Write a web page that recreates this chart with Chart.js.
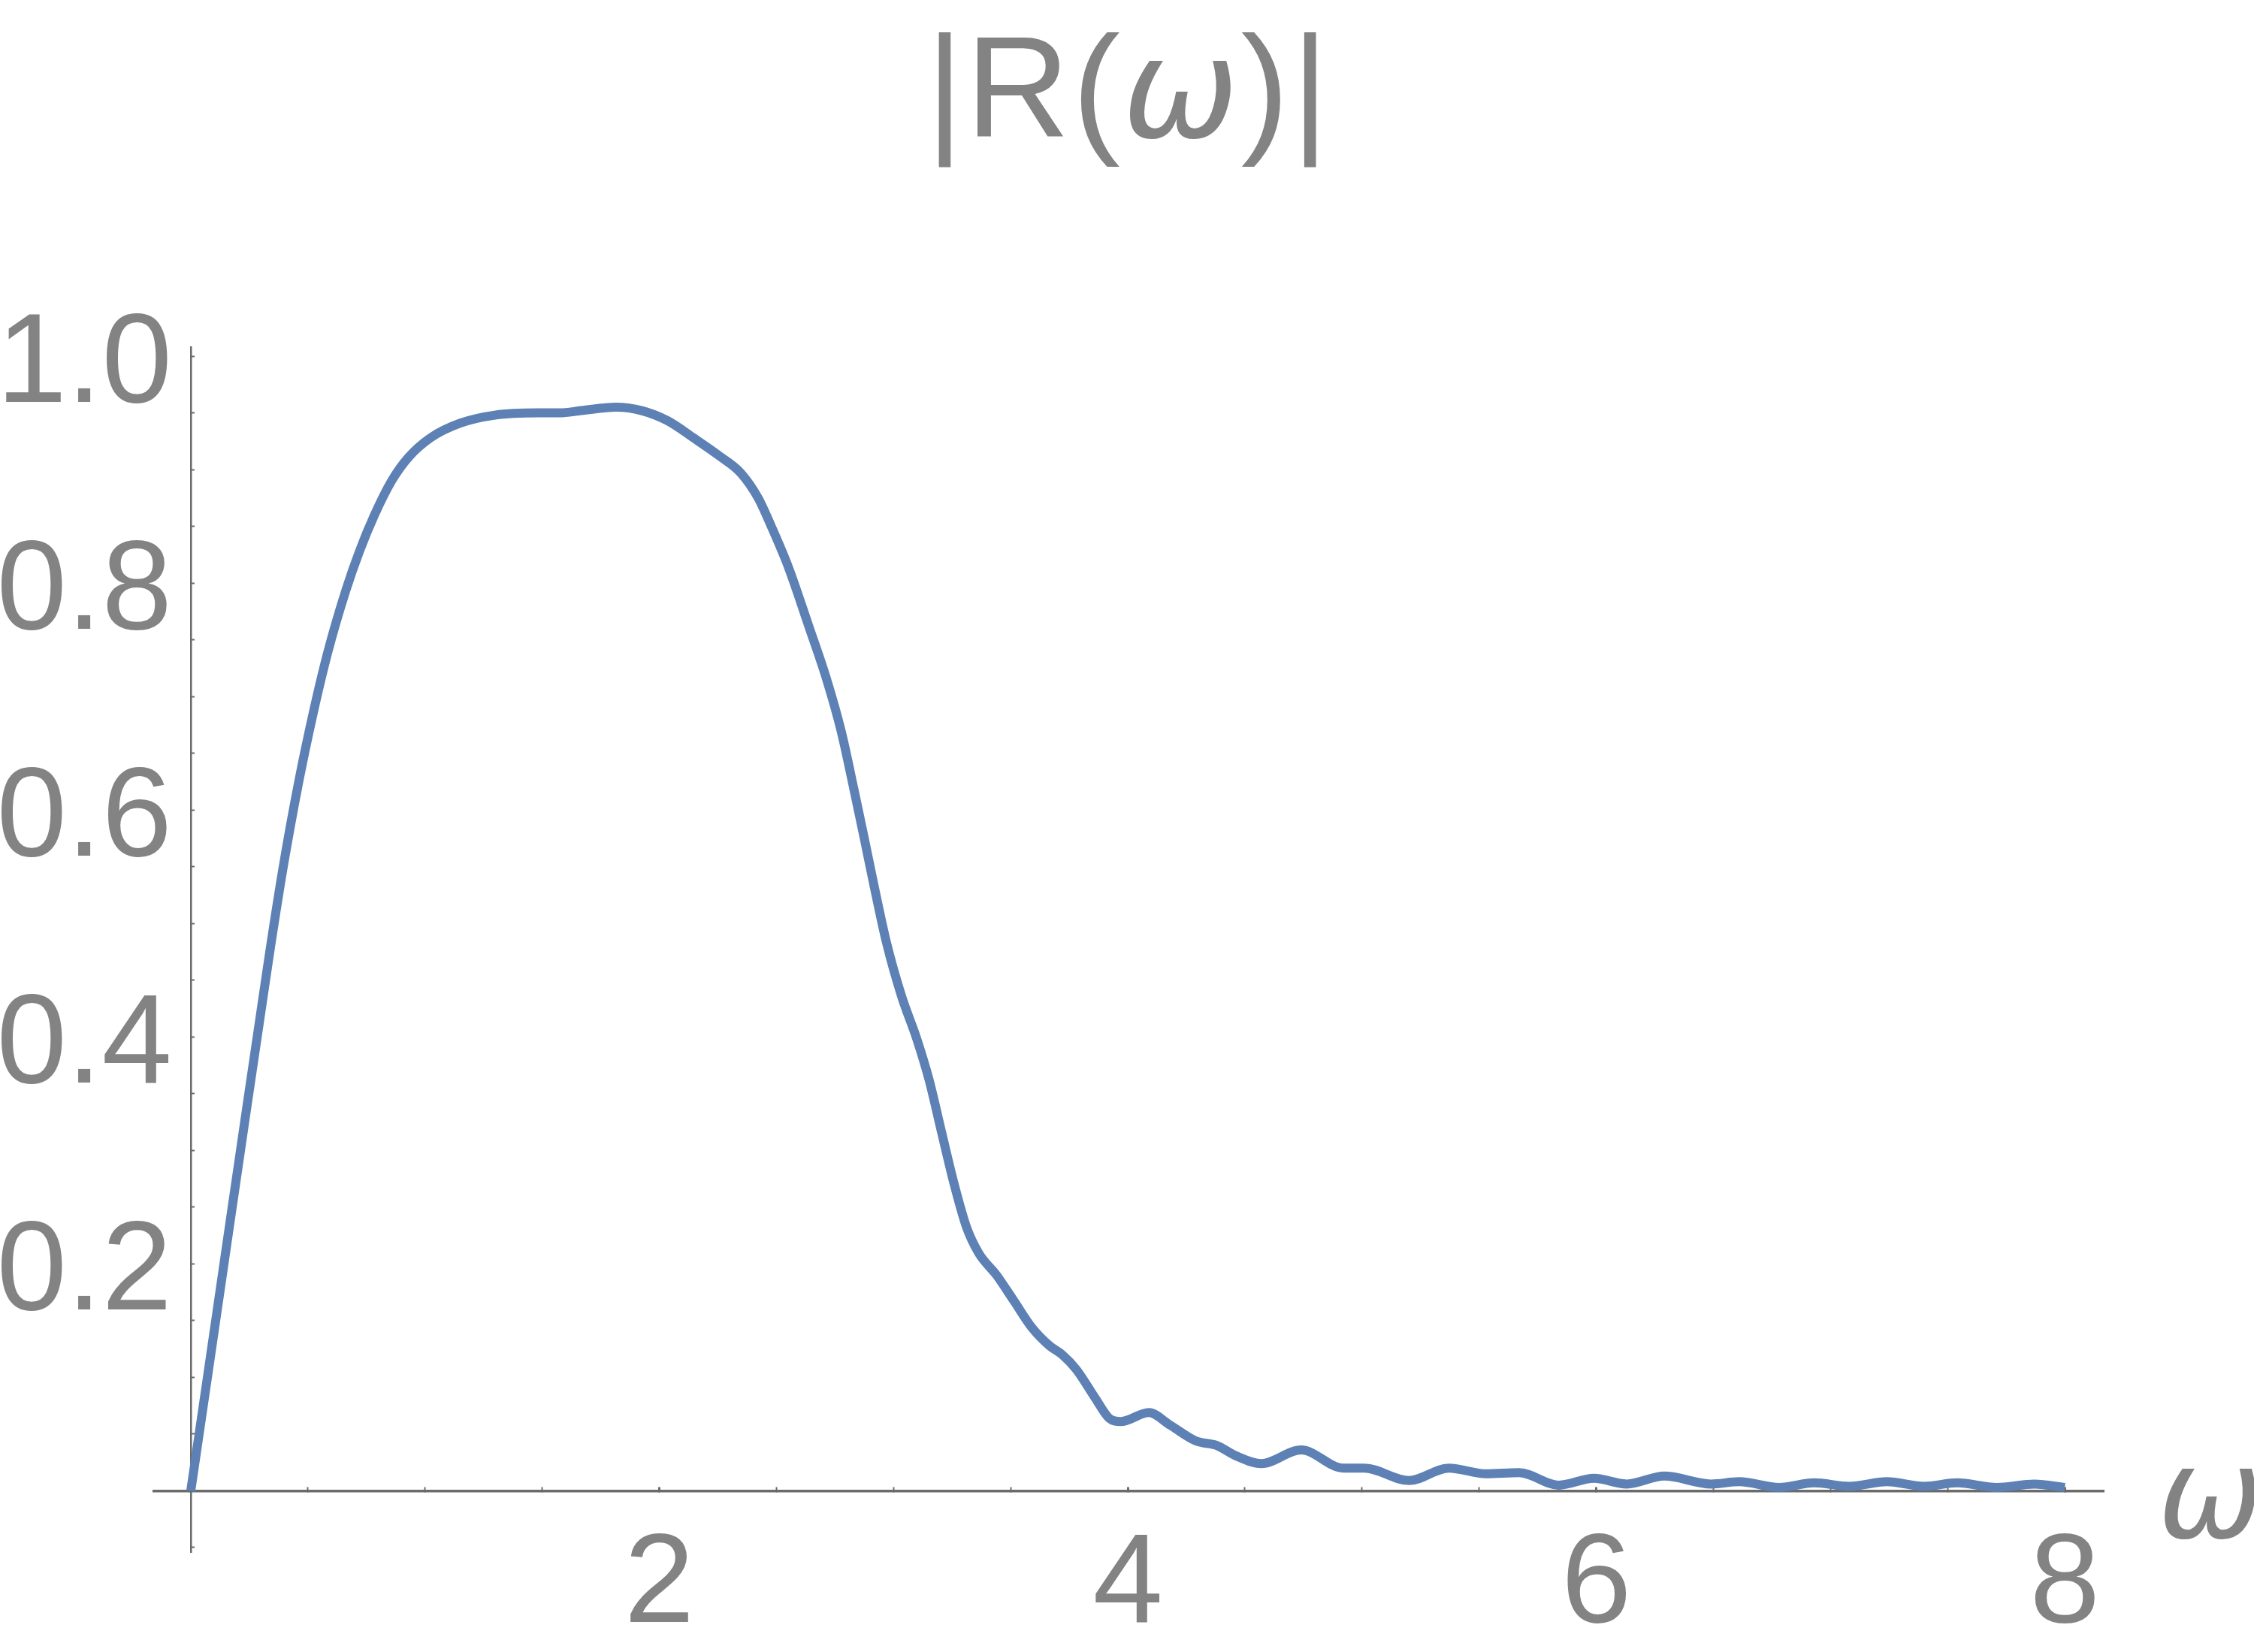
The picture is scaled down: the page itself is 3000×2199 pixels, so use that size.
<!DOCTYPE html>
<html>
<head>
<meta charset="utf-8">
<title>|R(ω)|</title>
<script src="https://cdn.jsdelivr.net/npm/chart.js@4.4.1/dist/chart.umd.min.js"></script>
<style>
  html, body { margin: 0; padding: 0; background: #fff; }
  canvas { display: block; }
</style>
</head>
<body>
<canvas id="chart" width="3000" height="2199"></canvas>
<script>
// |R(omega)|
const omega = [0, 0.083, 0.169, 0.244, 0.287, 0.340, 0.393, 0.458, 0.522, 0.586,
  0.661, 0.720, 0.784, 0.857, 0.930, 1.023, 1.151, 1.298, 1.484, 1.575,
  1.667, 1.815, 1.925, 2.036, 2.146, 2.257, 2.348, 2.422, 2.478, 2.553,
  2.638, 2.713, 2.777, 2.831, 2.874, 2.916, 2.970, 3.034, 3.098, 3.152,
  3.205, 3.259, 3.312, 3.365, 3.440, 3.515, 3.590, 3.665, 3.720, 3.780,
  3.860, 3.920, 3.970, 4.090, 4.180, 4.290, 4.380, 4.460, 4.570, 4.740,
  4.920, 5.010, 5.200, 5.370, 5.530, 5.670, 5.840, 5.990, 6.130, 6.290,
  6.490, 6.610, 6.780, 6.930, 7.080, 7.240, 7.400, 7.540, 7.710, 7.870, 8.000];
const magnitude = [0, 0.117, 0.239, 0.345, 0.405, 0.479, 0.548, 0.622, 0.685, 0.740,
  0.793, 0.828, 0.860, 0.890, 0.911, 0.928, 0.941, 0.948, 0.950, 0.950,
  0.952, 0.955, 0.952, 0.943, 0.928, 0.912, 0.897, 0.875, 0.850, 0.813,
  0.762, 0.716, 0.669, 0.618, 0.576, 0.534, 0.483, 0.436, 0.399, 0.362,
  0.316, 0.270, 0.232, 0.209, 0.190, 0.167, 0.144, 0.128, 0.120, 0.107,
  0.082, 0.064, 0.061, 0.069, 0.058, 0.044, 0.040, 0.031, 0.024, 0.036,
  0.020, 0.020, 0.009, 0.020, 0.015, 0.016, 0.005, 0.011, 0.006, 0.013,
  0.006, 0.008, 0.003, 0.007, 0.004, 0.008, 0.004, 0.007, 0.003, 0.006, 0.003];

const xTickLabels = ['2', '4', '6', '8'];
const yTickLabels = ['0.2', '0.4', '0.6', '0.8', '1.0'];

const labelGray = '#838383';
const axisGray = '#6b6b6b';
const curveBlue = '#5e81b5';
const labelFont = '"Liberation Sans", Arial, sans-serif';

// title |R(ω)| with the omega in italics
const titlePlugin = {
    id: 'mixedTitle',
    afterDraw(chart) {
        const ctx = chart.ctx;
        const parts = [
            { text: '|R(', font: '192px ' + labelFont },
            { text: 'ω', font: 'oblique 185px "DejaVu Sans", sans-serif' },
            { text: ')|', font: '192px ' + labelFont }
        ];
        ctx.save();
        ctx.fillStyle = labelGray;
        ctx.textBaseline = 'alphabetic';
        ctx.textAlign = 'left';
        ctx.letterSpacing = '3px';
        let total = 0;
        parts.forEach(p => { ctx.font = p.font; p.w = ctx.measureText(p.text).width; total += p.w; });
        let x = 1502 - total / 2;
        parts.forEach(p => { ctx.font = p.font; ctx.fillText(p.text, x, 182); x += p.w; });
        ctx.restore();
    }
};

// y tick labels, set a little left of the vertical axis like the original
const yLabelPlugin = {
    id: 'yLabels',
    afterDraw(chart) {
        const ctx = chart.ctx;
        const xs = chart.scales.x;
        const ys = chart.scales.y;
        const axisX = xs.getPixelForValue(0);
        ctx.save();
        ctx.fillStyle = labelGray;
        ctx.font = '168px ' + labelFont;
        ctx.textAlign = 'right';
        ctx.textBaseline = 'alphabetic';
        yTickLabels.forEach((lbl, i) => {
            const py = ys.getPixelForValue((i + 1) * 0.2);
            ctx.fillText(lbl, axisX - 25, py + 61);
        });
        ctx.restore();
    }
};

// axis label ω at the right end of the horizontal axis
const axisLabelPlugin = {
    id: 'omegaLabel',
    afterDraw(chart) {
        const ctx = chart.ctx;
        const y0 = chart.scales.y.getPixelForValue(0);
        ctx.save();
        ctx.fillStyle = labelGray;
        ctx.font = 'oblique 167px "DejaVu Sans", sans-serif';
        ctx.textBaseline = 'alphabetic';
        ctx.textAlign = 'left';
        ctx.fillText('ω', chart.chartArea.right + 72, y0 + 63);
        ctx.restore();
    }
};

const noPadding = scale => {
    scale.paddingLeft = 0;
    scale.paddingRight = 0;
    scale.paddingTop = 0;
    scale.paddingBottom = 0;
};

const ctx = document.getElementById('chart').getContext('2d');
const chart = new Chart(ctx, {
    type: 'line',
    data: {
        datasets: [{
            data: omega.map((w, i) => ({ x: w, y: magnitude[i] })),
            borderColor: curveBlue,
            borderWidth: 12,
            pointRadius: 0,
            fill: false,
            cubicInterpolationMode: 'monotone'
        }]
    },
    options: {
        responsive: false,
        animation: false,
        layout: { padding: { left: 205, right: 200, top: 462, bottom: 133 } },
        plugins: {
            legend: { display: false },
            tooltip: { enabled: false },
            title: { display: false }
        },
        scales: {
            x: {
                type: 'linear',
                min: -0.157,
                max: 8.166,
                position: { y: 0 },
                border: { display: true, color: axisGray, width: 3.5 },
                grid: {
                    drawOnChartArea: false,
                    drawTicks: true,
                    tickLength: -7,
                    tickColor: axisGray,
                    tickWidth: c => (c.tick && c.tick.value % 2 === 0 ? 3 : 2)
                },
                ticks: {
                    stepSize: 0.5,
                    includeBounds: false,
                    autoSkip: false,
                    maxRotation: 0,
                    padding: 34,
                    color: labelGray,
                    font: { family: labelFont, size: 168 },
                    callback: v => (v > 0 && v % 2 === 0 ? xTickLabels[v / 2 - 1] : '')
                },
                afterFit: noPadding
            },
            y: {
                type: 'linear',
                min: -0.054,
                max: 1.008,
                position: { x: 0 },
                border: { display: true, color: axisGray, width: 2.5 },
                grid: {
                    drawOnChartArea: false,
                    drawTicks: true,
                    tickLength: -6,
                    tickColor: axisGray,
                    tickWidth: 2
                },
                ticks: {
                    stepSize: 0.05,
                    includeBounds: false,
                    autoSkip: false,
                    display: false
                },
                afterFit: noPadding
            }
        }
    },
    plugins: [titlePlugin, yLabelPlugin, axisLabelPlugin]
});
</script>
</body>
</html>
